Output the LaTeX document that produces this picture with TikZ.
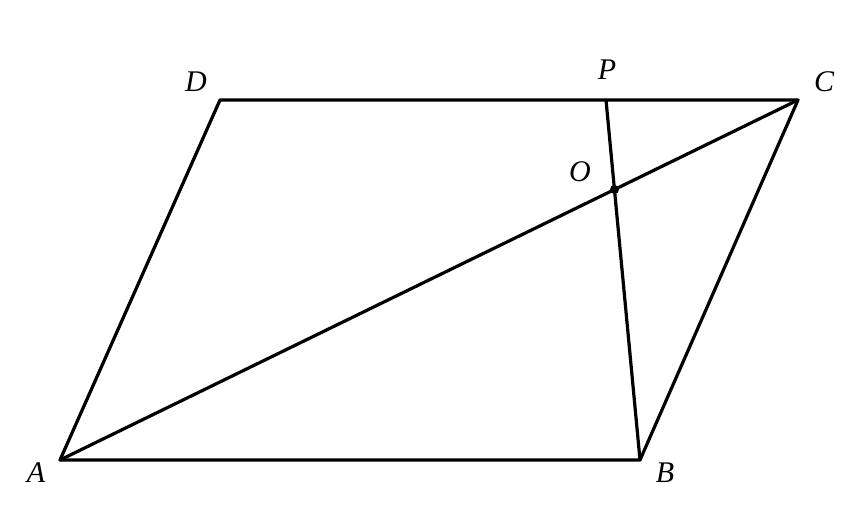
\documentclass[tikz,border=0pt]{standalone}
\usepackage{fontspec}
\setmainfont{Liberation Serif}
\begin{document}
\begin{tikzpicture}[x=1pt,y=-1pt,
  edge/.style={line width=3.2pt,line join=round,line cap=round},
  lbl/.style={font=\fontsize{30}{31}\selectfont\itshape,inner sep=0pt}]
\useasboundingbox (0,0) rectangle (860,510);
\coordinate (A) at (60,460);
\coordinate (B) at (640,460);
\coordinate (C) at (798,100);
\coordinate (D) at (220,100);
\coordinate (P) at (606,100);
\coordinate (O) at (614.5,189.5);
\draw[edge] (A) -- (B) -- (C) -- (D) -- cycle;
\draw[edge] (A) -- (C);
\draw[edge] (P) -- (B);
\fill (O) circle (4.5);
\node[lbl] (lA) at (36,473) {A};
\node[lbl] (lB) at (665,473) {B};
\node[lbl] (lC) at (824,82) {C};
\node[lbl] (lD) at (196,82) {D};
\node[lbl] (lP) at (607,70) {P};
\node[lbl] (lO) at (580,172) {O};
\end{tikzpicture}
\end{document}
